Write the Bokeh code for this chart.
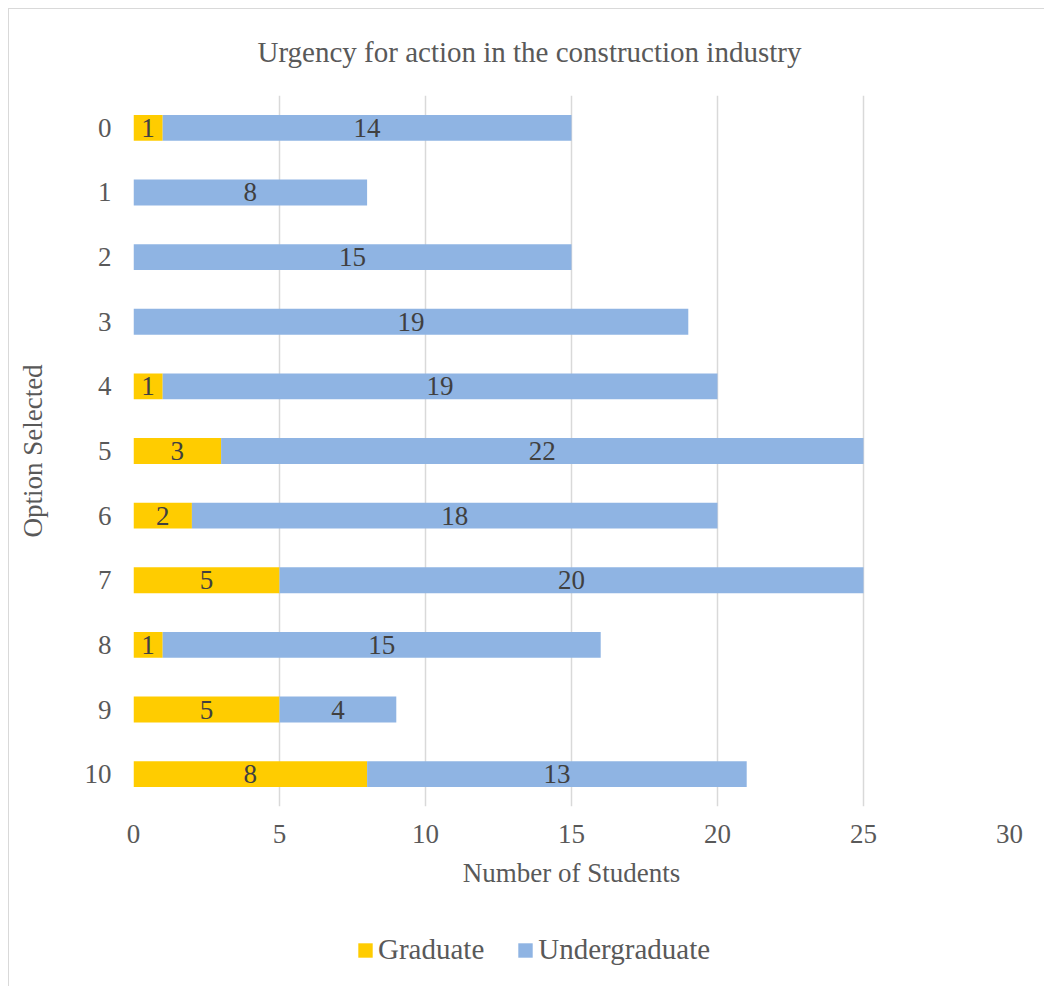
from bokeh.plotting import figure
from bokeh.layouts import column
from bokeh.models import ColumnDataSource, FactorRange, Range1d, Legend, LegendItem, LabelSet, FixedTicker
from bokeh.embed import file_html
from bokeh.resources import INLINE

options = ["0", "1", "2", "3", "4", "5", "6", "7", "8", "9", "10"]
graduate = [1, 0, 0, 0, 1, 3, 2, 5, 1, 5, 8]
undergraduate = [14, 8, 15, 19, 19, 22, 18, 20, 15, 4, 13]
series = ["Graduate", "Undergraduate"]
colors = ["#FFCC00", "#8FB4E3"]
x_ticks = [0, 5, 10, 15, 20, 25, 30]

FONT = "Liberation Serif"
TXT = "#595959"

source = ColumnDataSource(dict(option=options, Graduate=graduate, Undergraduate=undergraduate))

p = figure(width=1035, height=900, y_range=FactorRange(factors=list(reversed(options)), range_padding=0),
           x_range=Range1d(0, 30), output_backend="svg", toolbar_location=None,
           min_border_left=124, min_border_right=35, min_border_top=86, min_border_bottom=103,
           title="Urgency for action in the construction industry")
p.outline_line_color = None
p.background_fill_color = "white"
p.border_fill_color = "white"

p.title.align = "left"
p.title.offset = 124
p.title.vertical_align = "top"
p.title.standoff = 52
p.title.text_font = FONT
p.title.text_font_size = "29px"
p.title.text_font_style = "normal"
p.title.text_color = TXT

renderers = p.hbar_stack(series, y="option", height=0.4, color=colors, source=source, line_color=None)

# data labels
lx, ly, lt = [], [], []
for o, g, u in zip(options, graduate, undergraduate):
    if g:
        lx.append(g / 2); ly.append(o); lt.append(str(g))
    if u:
        lx.append(g + u / 2); ly.append(o); lt.append(str(u))
lab_src = ColumnDataSource(dict(x=lx, y=ly, t=lt))
p.add_layout(LabelSet(x="x", y="y", text="t", source=lab_src, text_align="center", text_baseline="middle",
                      text_font=FONT, text_font_size="27px", text_color="#404040"))

# axes
p.xaxis.ticker = FixedTicker(ticks=x_ticks)
for ax in (p.xaxis[0], p.yaxis[0]):
    ax.axis_line_color = None
    ax.major_tick_line_color = None
    ax.minor_tick_line_color = None
    ax.major_tick_out = 0
    ax.major_tick_in = 0
    ax.major_label_text_font = FONT
    ax.major_label_text_font_size = "27px"
    ax.major_label_text_color = TXT
    ax.axis_label_text_font = FONT
    ax.axis_label_text_font_size = "27px"
    ax.axis_label_text_color = TXT
    ax.axis_label_text_font_style = "normal"
p.xaxis.axis_label = "Number of Students"
p.yaxis.axis_label = "Option Selected"
p.xaxis.major_label_standoff = 18
p.xaxis.axis_label_standoff = 12
p.yaxis.major_label_standoff = 22
p.yaxis.axis_label_standoff = 34

p.xgrid.grid_line_color = "#D9D9D9"
p.xgrid.grid_line_width = 1.5
p.xgrid.ticker = FixedTicker(ticks=x_ticks)
p.ygrid.grid_line_color = None

# legend strip below the chart (hidden copies of the series supply the legend swatches)
leg = figure(width=1035, height=77, output_backend="svg", toolbar_location=None,
             y_range=FactorRange(factors=list(reversed(options))), x_range=Range1d(0, 30),
             x_axis_location=None, y_axis_location=None,
             min_border_left=0, min_border_right=0, min_border_top=0, min_border_bottom=0)
leg.outline_line_color = None
leg.xgrid.grid_line_color = None
leg.ygrid.grid_line_color = None
leg_renderers = leg.hbar_stack(series, y="option", height=0.4, color=colors, source=source,
                               line_color=None, visible=False)
legend = Legend(items=[LegendItem(label=s, renderers=[r]) for s, r in zip(series, leg_renderers)],
                location=(223, 20), orientation="horizontal", padding=0, margin=0, spacing=32,
                glyph_width=18, glyph_height=18, label_standoff=4,
                label_text_font=FONT, label_text_font_size="29px", label_text_color=TXT,
                border_line_color=None, background_fill_alpha=0)
leg.add_layout(legend, "center")

layout = column(p, leg, spacing=0)
layout.margin = (8, 0, 0, 8)
layout.styles = {"border-top": "1px solid #D9D9D9", "border-left": "1px solid #D9D9D9"}

open("out.html", "w").write(file_html(layout, INLINE))
